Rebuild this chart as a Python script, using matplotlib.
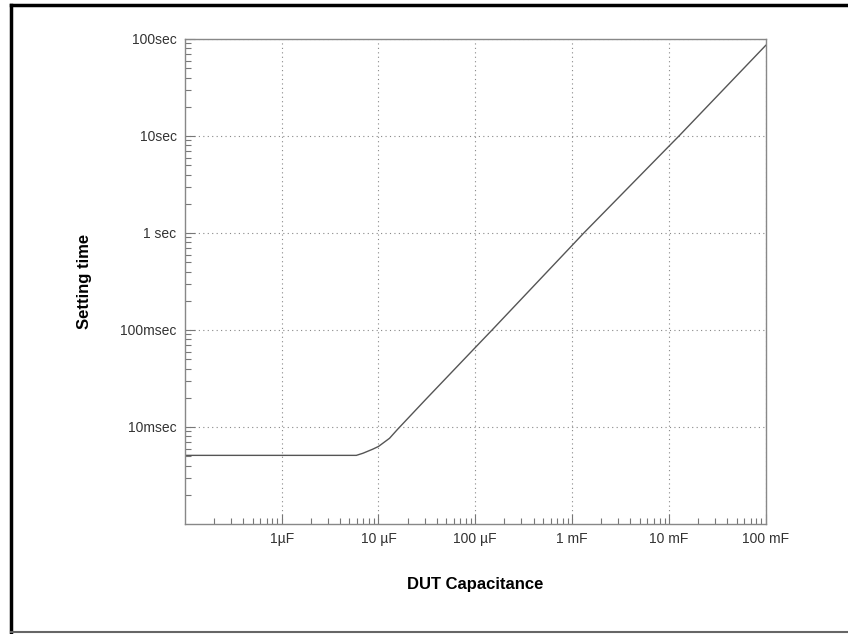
import matplotlib
matplotlib.use("Agg")
import matplotlib.pyplot as plt
from matplotlib.lines import Line2D
from matplotlib.ticker import LogLocator, NullFormatter

# values (capacitance in F, settling time in s)
capacitance = [1e-7, 1e-6, 4.5e-6, 5.9e-6, 6.9e-6, 8.7e-6, 10e-6, 13e-6, 15.8e-6,
               31e-6, 100e-6, 149e-6, 1e-3, 1.32e-3, 10e-3, 12.7e-3, 100e-3]
settle_time = [5.1e-3, 5.1e-3, 5.1e-3, 5.1e-3, 5.36e-3, 5.9e-3, 6.3e-3, 7.65e-3, 9.5e-3,
               19.4e-3, 66e-3, 100e-3, 0.745, 1.0, 7.85, 10.0, 86.0]

x_ticks = [1e-6, 1e-5, 1e-4, 1e-3, 1e-2, 1e-1]
x_labels = ["1\u00b5F", "10 \u00b5F", "100 \u00b5F", "1 mF", "10 mF", "100 mF"]
y_ticks = [1e-2, 1e-1, 1, 10, 100]
y_labels = ["10msec", "100msec", "1 sec", "10sec", "100sec"]

plt.rcParams["font.family"] = ["Liberation Sans", "DejaVu Sans"]

fig = plt.figure(figsize=(8.48, 6.34), dpi=100)
ax = fig.add_axes([0.218, 0.1735, 0.685, 0.765])

ax.plot(capacitance, settle_time, color="#555555", linewidth=1.0)
ax.set_xscale("log")
ax.set_yscale("log")
ax.set_xlim(1e-7, 1e-1)
ax.set_ylim(1e-3, 100)

ax.set_xticks(x_ticks)
ax.set_xticklabels(x_labels)
ax.set_yticks(y_ticks)
ax.set_yticklabels(y_labels)
ax.xaxis.set_minor_locator(LogLocator(base=10, subs=range(2, 10)))
ax.yaxis.set_minor_locator(LogLocator(base=10, subs=range(2, 10)))
ax.xaxis.set_minor_formatter(NullFormatter())
ax.yaxis.set_minor_formatter(NullFormatter())

ax.tick_params(which="major", direction="in", length=7, width=0.8, color="#777777",
               labelsize=10, labelcolor="#333333", pad=6)
ax.tick_params(which="minor", direction="in", length=4, width=0.8, color="#777777")
ax.grid(True, which="major", linestyle=(0, (1, 3)), color="#888888", linewidth=0.8)

for s in ax.spines.values():
    s.set_color("#888888")
    s.set_linewidth(1.0)

ax.set_ylabel("Setting time", fontsize=12, fontweight="bold", labelpad=20)
ax.set_xlabel("DUT Capacitance", fontsize=12, fontweight="bold", labelpad=22)

# outer frame
fig.add_artist(Line2D([0.013, 1.0], [0.992, 0.992], color="black", linewidth=2.5))
fig.add_artist(Line2D([0.013, 0.013], [0.003, 0.992], color="black", linewidth=2.5))
fig.add_artist(Line2D([0.013, 1.0], [0.003, 0.003], color="#666666", linewidth=1.5))

fig.savefig("out.png", dpi=100)
